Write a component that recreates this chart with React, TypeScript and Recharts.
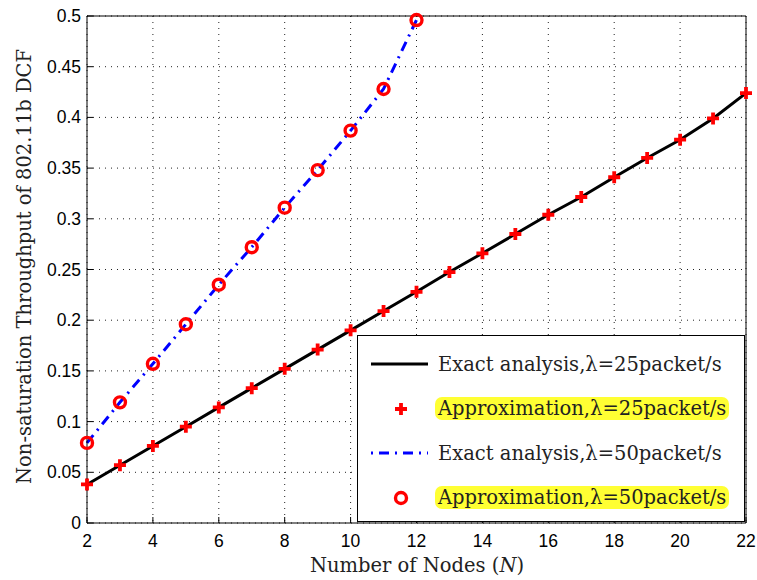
import React from "react";
import {
  ComposedChart,
  Line,
  XAxis,
  YAxis,
  CartesianGrid,
  ReferenceLine,
} from "recharts";

const nodes = [2, 3, 4, 5, 6, 7, 8, 9, 10, 11, 12, 13, 14, 15, 16, 17, 18, 19, 20, 21, 22];
const exact25 = [0.038, 0.057, 0.076, 0.095, 0.114, 0.133, 0.152, 0.171, 0.19, 0.209, 0.228, 0.2475, 0.266, 0.285, 0.304, 0.3215, 0.341, 0.36, 0.378, 0.399, 0.424];
const approx25 = [0.038, 0.057, 0.076, 0.095, 0.114, 0.133, 0.152, 0.171, 0.19, 0.209, 0.228, 0.2475, 0.266, 0.285, 0.304, 0.3215, 0.341, 0.36, 0.378, 0.399, 0.424];
const exact50 = [0.079, 0.119, 0.157, 0.196, 0.235, 0.272, 0.311, 0.348, 0.387, 0.428, 0.496];
const approx50 = [0.079, 0.119, 0.157, 0.196, 0.235, 0.272, 0.311, 0.348, 0.387, 0.428, 0.496];

const xTicks = [2, 4, 6, 8, 10, 12, 14, 16, 18, 20, 22];
const yTicks = [0, 0.05, 0.1, 0.15, 0.2, 0.25, 0.3, 0.35, 0.4, 0.45, 0.5];

const SERIF = "'DejaVu Serif', serif";
const SANS = "'Liberation Sans', Arial, sans-serif";
const RED = "#ff0000";
const BLUE = "#0000ff";

const data = nodes.map((n, i) => ({
  n,
  exact25: exact25[i],
  approx25: approx25[i],
  exact50: i < exact50.length ? exact50[i] : null,
  approx50: i < approx50.length ? approx50[i] : null,
}));

// eslint-disable-next-line @typescript-eslint/no-explicit-any
const PlusDot = (props: any) => {
  const { cx, cy, value, index } = props;
  if (value == null || cx == null || cy == null) return <g key={`p-${index}`} />;
  const s = 6;
  return (
    <path
      key={`p-${index}`}
      d={`M${cx - s},${cy}H${cx + s}M${cx},${cy - s}V${cy + s}`}
      stroke={RED}
      strokeWidth={3.8}
      fill="none"
    />
  );
};

// eslint-disable-next-line @typescript-eslint/no-explicit-any
const CircleDot = (props: any) => {
  const { cx, cy, value, index } = props;
  if (value == null || cx == null || cy == null) return <g key={`c-${index}`} />;
  return (
    <circle key={`c-${index}`} cx={cx} cy={cy} r={5.5} stroke={RED} strokeWidth={3.4} fill="none" />
  );
};

// inward tick + label, matlab style
// eslint-disable-next-line @typescript-eslint/no-explicit-any
const XTick = (props: any) => {
  const { x, y, payload } = props;
  const axisY = y - 11;
  return (
    <g>
      <line x1={x} x2={x} y1={axisY} y2={axisY - 6} stroke="#000" />
      <text x={x} y={y + 13} textAnchor="middle" fontFamily={SANS} fontSize={17.5} fill="#000">
        {payload.value}
      </text>
    </g>
  );
};

// eslint-disable-next-line @typescript-eslint/no-explicit-any
const YTick = (props: any) => {
  const { x, y, payload } = props;
  const axisX = x + 6;
  return (
    <g>
      <line x1={axisX} x2={axisX + 6} y1={y} y2={y} stroke="#000" />
      <text x={x} y={y + 6} textAnchor="end" fontFamily={SANS} fontSize={17.5} fill="#000">
        {payload.value === 0 ? "0" : String(payload.value)}
      </text>
    </g>
  );
};

const LegendLine = ({ kind }: { kind: string }) => (
  <svg width={70} height={20} style={{ display: "block" }}>
    {kind === "black" && <line x1={13} x2={74} y1={10} y2={10} stroke="#000" strokeWidth={3} />}
    {kind === "blue" && (
      <line x1={13} x2={74} y1={10} y2={10} stroke={BLUE} strokeWidth={3} strokeDasharray="2 6 10 6" />
    )}
    {kind === "plus" && (
      <path d="M37,10H49M43,4V16" stroke={RED} strokeWidth={3.8} fill="none" />
    )}
    {kind === "circle" && <circle cx={43} cy={10} r={5.5} stroke={RED} strokeWidth={3.4} fill="none" />}
  </svg>
);

const legendRows = [
  { kind: "black", label: "Exact analysis,λ=25packet/s", hl: false },
  { kind: "plus", label: "Approximation,λ=25packet/s", hl: true },
  { kind: "blue", label: "Exact analysis,λ=50packet/s", hl: false },
  { kind: "circle", label: "Approximation,λ=50packet/s", hl: true },
];

export default function App() {
  return (
    <div style={{ position: "absolute", left: 0, top: 0, width: 757, height: 580, background: "#fff" }}>
      <ComposedChart width={757} height={580} data={data} margin={{ top: 16, right: 11, bottom: 0, left: 0 }}>
        <CartesianGrid stroke="#222" strokeDasharray="1 5" />
        <XAxis
          dataKey="n"
          type="number"
          domain={[2, 22]}
          ticks={xTicks}
          height={57}
          tickSize={0}
          tickMargin={11}
          tick={<XTick />}
          axisLine={{ stroke: "#000" }}
          label={{
            content: () => (
              <text x={417} y={572} textAnchor="middle" fontFamily={SERIF} fontSize={19.5} fill="#222">
                Number of Nodes (<tspan fontStyle="italic">N</tspan>)
              </text>
            ),
          }}
        />
        <YAxis
          type="number"
          domain={[0, 0.5]}
          ticks={yTicks}
          width={87}
          tickSize={0}
          tickMargin={6}
          tick={<YTick />}
          axisLine={{ stroke: "#000" }}
          label={{
            // eslint-disable-next-line @typescript-eslint/no-explicit-any
            content: (p: any) => {
              const vb = p.viewBox || { x: 0, y: 16, height: 507 };
              const cy = vb.y + vb.height / 2 - 3;
              return (
                <text
                  x={31}
                  y={cy}
                  transform={`rotate(-90 31 ${cy})`}
                  textAnchor="middle"
                  fontFamily={SERIF}
                  fontSize={19.5}
                  fill="#222"
                >
                  Non-saturation Throughput of 802.11b DCF
                </text>
              );
            },
          }}
        />
        <ReferenceLine y={0.5} stroke="#000" />
        <ReferenceLine x={22} stroke="#000" />
        <Line dataKey="exact25" stroke="#000" strokeWidth={3} dot={false} isAnimationActive={false} />
        <Line
          dataKey="exact50"
          stroke={BLUE}
          strokeWidth={3}
          strokeDasharray="10 6 2 6"
          dot={false}
          isAnimationActive={false}
        />
        <Line dataKey="approx25" stroke="none" dot={PlusDot} activeDot={false} isAnimationActive={false} />
        <Line dataKey="approx50" stroke="none" dot={CircleDot} activeDot={false} isAnimationActive={false} />
      </ComposedChart>
      <div
        style={{
          position: "absolute",
          left: 357,
          top: 335,
          width: 388,
          height: 187,
          border: "1px solid #000",
          background: "#fff",
          fontFamily: SERIF,
          fontSize: 19.5,
          color: "#222",
          boxSizing: "border-box",
        }}
      >
        {legendRows.map((r, i) => (
          <div
            key={i}
            style={{
              position: "absolute",
              left: 0,
              top: 16 + i * 44.5,
              height: 24,
              display: "flex",
              alignItems: "center",
            }}
          >
            <LegendLine kind={r.kind} />
            <span
              style={{
                marginLeft: 7,
                padding: "0 3px",
                background: r.hl ? "#ffff33" : "transparent",
                borderRadius: 7,
                lineHeight: "23px",
                whiteSpace: "nowrap",
              }}
            >
              {r.label}
            </span>
          </div>
        ))}
      </div>
    </div>
  );
}
